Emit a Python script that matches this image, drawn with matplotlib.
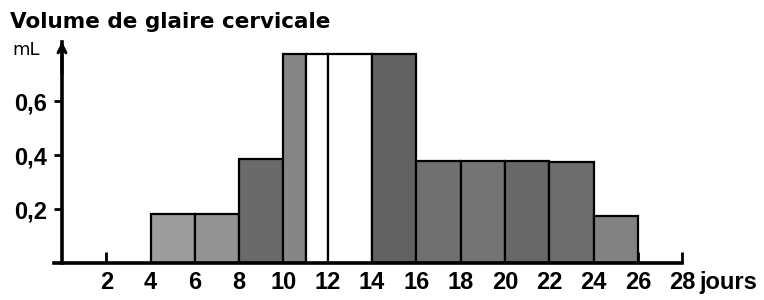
import matplotlib

matplotlib.use("Agg")
import matplotlib.pyplot as plt

# day edges of each bar and the volume of cervical mucus (mL)
day_start = [4, 6, 8, 10, 11, 12, 14, 16, 18, 20, 22, 24]
day_end = [6, 8, 10, 11, 12, 14, 16, 18, 20, 22, 24, 26]
volume_ml = [0.18, 0.18, 0.385, 0.775, 0.775, 0.775, 0.775, 0.378, 0.378, 0.378, 0.375, 0.175]
bar_colors = ["#9c9c9c", "#949494", "#6a6a6a", "#868686", "white", "white",
              "#626262", "#707070", "#747474", "#686868", "#6c6c6c", "#828282"]

x_ticks = list(range(2, 29, 2))
y_ticks = [0.2, 0.4, 0.6]
y_tick_labels = ["0,2", "0,4", "0,6"]

# narrow bold digits, like the scanned figure
tick_font = dict(family=["Liberation Sans", "DejaVu Sans"], fontsize=17, fontweight="bold")

W, H = 764, 300
fig = plt.figure(figsize=(W / 100, H / 100), dpi=100)

# axes placed so that day 0 sits at x=62px and the baseline at y=263px
px_per_day = 22.15
x_left = -0.35
ax_left = 62 + x_left * px_per_day
ax_right = 62 + 28 * px_per_day
y_top = 0.82
px_per_ml = 270
ax = fig.add_axes([ax_left / W, 37 / H, (ax_right - ax_left) / W, y_top * px_per_ml / H])

widths = [e - s for s, e in zip(day_start, day_end)]
ax.bar(day_start, volume_ml, width=widths, align="edge", color=bar_colors,
       edgecolor="black", linewidth=1.6, zorder=3)

ax.set_xlim(x_left, 28)
ax.set_ylim(0, y_top)

for side in ["top", "right"]:
    ax.spines[side].set_visible(False)
ax.spines["left"].set_position(("data", 0))
ax.spines["left"].set_linewidth(2.6)
ax.spines["bottom"].set_linewidth(2.6)
ax.spines["bottom"].set_zorder(4)

# arrow on the y axis
ax.annotate("", xy=(0, y_top), xytext=(0, 0.7), xycoords="data",
            arrowprops=dict(arrowstyle="->", lw=2.2, color="black",
                            shrinkA=0, shrinkB=0, mutation_scale=14),
            annotation_clip=False)

ax.set_xticks(x_ticks)
ax.set_xticklabels([str(t) for t in x_ticks], **tick_font)
ax.tick_params(axis="x", direction="in", length=8, width=2, pad=6)
ax.set_yticks(y_ticks)
ax.set_yticklabels(y_tick_labels, **tick_font)
ax.tick_params(axis="y", direction="out", length=6, width=2, pad=5)

ax.annotate("jours", xy=(28, 0), xytext=(17, -8), textcoords="offset pixels",
            ha="left", va="top", annotation_clip=False, **tick_font)

fig.text(10 / W, 1 - 28 / H, "Volume de glaire cervicale", fontsize=15.5,
         fontweight="bold", family="DejaVu Sans", va="baseline", ha="left")
fig.text(12 / W, 1 - 55 / H, "mL", fontsize=13, family="DejaVu Sans",
         va="baseline", ha="left")

fig.savefig("out.png", dpi=100)
